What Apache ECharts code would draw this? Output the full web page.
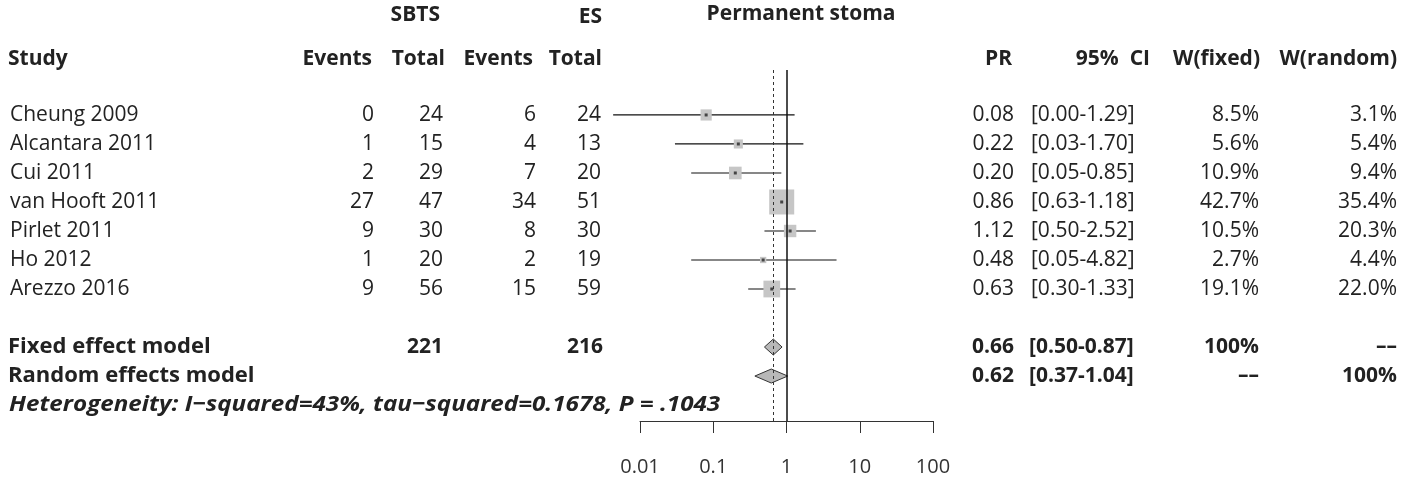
<!DOCTYPE html>
<html>
<head>
<meta charset="utf-8">
<script src="https://cdn.jsdelivr.net/npm/echarts@6/dist/echarts.min.js"></script>
<style>
  html, body { margin: 0; padding: 0; background: #fff; }
  #chart { width: 1412px; height: 477px; }
</style>
</head>
<body>
<div id="chart"></div>
<script>
// study data
var studies = ['Cheung 2009', 'Alcantara 2011', 'Cui 2011', 'van Hooft 2011', 'Pirlet 2011', 'Ho 2012', 'Arezzo 2016'];
var eventsSBTS = [0, 1, 2, 27, 9, 1, 9];
var totalSBTS = [24, 15, 29, 47, 30, 20, 56];
var eventsES = [6, 4, 7, 34, 8, 2, 15];
var totalES = [24, 13, 20, 51, 30, 19, 59];
var pr = [0.08, 0.22, 0.20, 0.86, 1.12, 0.48, 0.63];
var ciLow = [0.0043, 0.03, 0.05, 0.63, 0.50, 0.05, 0.30];
var ciHigh = [1.29, 1.70, 0.85, 1.18, 2.52, 4.82, 1.33];
var wFixed = [8.5, 5.6, 10.9, 42.7, 10.5, 2.7, 19.1];
var wRandom = [3.1, 5.4, 9.4, 35.4, 20.3, 4.4, 22.0];

// pooled estimates
var summaryLabels = ['Fixed effect model', 'Random effects model'];
var summaryEst = [0.66, 0.62];
var summaryLow = [0.50, 0.37];
var summaryHigh = [0.87, 1.04];
var summaryTotals = ['221', '216'];
var summaryWFixed = ['100%', '\u2013\u2013'];
var summaryWRandom = ['\u2013\u2013', '100%'];
var heterogeneity = 'Heterogeneity: I\u2212squared=43%, tau\u2212squared=0.1678, P = .1043';

var xTicks = [0.01, 0.1, 1, 10, 100];

// layout
var FONT = "'Open Sans', sans-serif";
var FS = 21;
var TXT = '#222';
var summaryRow = 8;   // one empty row after the studies
var col = { study: 10, ev1: 374, tot1: 443, ev2: 536, tot2: 601, pr: 1014, ci: 1031, wf: 1259, wr: 1397 };

function txt(x, y, s, align, weight, style, size) {
  return {
    type: 'text', x: x, y: y, silent: true,
    style: {
      text: s, fill: TXT,
      font: (style || 'normal') + ' ' + (weight || 'normal') + ' ' + (size || FS) + 'px ' + FONT,
      align: align || 'left', verticalAlign: 'middle'
    }
  };
}

function ciText(lo, hi) {
  return '[' + lo.toFixed(2) + '-' + hi.toFixed(2) + ']';
}

var chart = echarts.init(document.getElementById('chart'));

var headerY = 59;
var headers = [
  txt(801, 14, 'Permanent stoma', 'center', 'bold'),
  txt(440, 15, 'SBTS', 'right', 'bold'),
  txt(602, 17, 'ES', 'right', 'bold'),
  txt(8, headerY, 'Study', 'left', 'bold'),
  txt(372, headerY, 'Events', 'right', 'bold'),
  txt(445, headerY, 'Total', 'right', 'bold'),
  txt(533, headerY, 'Events', 'right', 'bold'),
  txt(602, headerY, 'Total', 'right', 'bold'),
  txt(1012, headerY, 'PR', 'right', 'bold'),
  txt(1150, headerY, '95%  CI', 'right', 'bold'),
  txt(1260, headerY, 'W(fixed)', 'right', 'bold'),
  txt(1397, headerY, 'W(random)', 'right', 'bold')
];

chart.setOption({
  animation: false,
  graphic: headers,
  grid: { left: 640, right: 479, top: 70, bottom: 54 },
  xAxis: {
    type: 'log',
    logBase: 10,
    min: xTicks[0],
    max: xTicks[xTicks.length - 1],
    splitLine: { show: false },
    axisLine: { onZero: false, lineStyle: { color: '#333', width: 1 } },
    axisTick: { length: 12, lineStyle: { color: '#333', width: 1 } },
    axisLabel: {
      margin: 36, color: '#333', fontSize: 20, fontFamily: FONT,
      formatter: function (v) { return String(v); }
    }
  },
  yAxis: {
    type: 'value', inverse: true, min: -1.55, max: 10.55, show: false
  },
  series: [
    {
      // study CI lines and weighted squares
      type: 'custom',
      clip: false,
      data: studies.map(function (s, i) { return [i, pr[i], ciLow[i], ciHigh[i], wFixed[i]]; }),
      encode: { x: [1, 2, 3], y: 0 },
      markLine: {
        silent: true, symbol: 'none', label: { show: false },
        data: [
          { xAxis: 1, lineStyle: { color: '#111', width: 1.5, type: 'solid' } },
          { xAxis: summaryEst[0], lineStyle: { color: '#333', width: 1, type: [3, 3] } }
        ]
      },
      renderItem: function (params, api) {
        var row = api.value(0);
        var pLo = api.coord([api.value(2), row]);
        var pHi = api.coord([api.value(3), row]);
        var pE = api.coord([api.value(1), row]);
        var side = 3.83 * Math.sqrt(api.value(4));
        return {
          type: 'group',
          children: [
            { type: 'line', shape: { x1: pLo[0], y1: pLo[1], x2: pHi[0], y2: pHi[1] }, style: { stroke: '#111', lineWidth: 1.2 } },
            { type: 'rect', shape: { x: pE[0] - side / 2, y: pE[1] - side / 2, width: side, height: side }, style: { fill: '#c6c6c6' } },
            { type: 'rect', shape: { x: pE[0] - 1.5, y: pE[1] - 1.5, width: 3, height: 3 }, style: { fill: '#444' } }
          ]
        };
      }
    },
    {
      // pooled diamonds
      type: 'custom',
      clip: false,
      data: summaryEst.map(function (e, i) { return [summaryRow + i, e, summaryLow[i], summaryHigh[i]]; }),
      encode: { x: [1, 2, 3], y: 0 },
      renderItem: function (params, api) {
        var row = api.value(0);
        var h = params.dataIndex === 0 ? 8 : 7;
        var pLo = api.coord([api.value(2), row]);
        var pHi = api.coord([api.value(3), row]);
        var pE = api.coord([api.value(1), row]);
        return {
          type: 'polygon',
          shape: { points: [[pLo[0], pE[1]], [pE[0], pE[1] - h], [pHi[0], pE[1]], [pE[0], pE[1] + h]] },
          style: { fill: '#b8b8b8', stroke: '#333', lineWidth: 1 }
        };
      }
    },
    {
      // table text for each study row
      type: 'custom',
      clip: false,
      silent: true,
      data: studies.map(function (s, i) { return [1, i]; }),
      encode: { x: 0, y: 1 },
      renderItem: function (params, api) {
        var i = params.dataIndex;
        var y = api.coord([1, api.value(1)])[1];
        return {
          type: 'group',
          children: [
            txt(col.study, y, studies[i]),
            txt(col.ev1, y, String(eventsSBTS[i]), 'right'),
            txt(col.tot1, y, String(totalSBTS[i]), 'right'),
            txt(col.ev2, y, String(eventsES[i]), 'right'),
            txt(col.tot2, y, String(totalES[i]), 'right'),
            txt(col.pr, y, pr[i].toFixed(2), 'right'),
            txt(col.ci, y, ciText(ciLow[i], ciHigh[i]), 'left'),
            txt(col.wf, y, wFixed[i].toFixed(1) + '%', 'right'),
            txt(col.wr, y, wRandom[i].toFixed(1) + '%', 'right')
          ]
        };
      }
    },
    {
      // table text for pooled rows and heterogeneity
      type: 'custom',
      clip: false,
      silent: true,
      data: [[1, summaryRow], [1, summaryRow + 1], [1, summaryRow + 2]],
      encode: { x: 0, y: 1 },
      renderItem: function (params, api) {
        var i = params.dataIndex;
        var y = api.coord([1, api.value(1)])[1];
        if (i === 2) {
          var het = txt(col.study, y, heterogeneity, 'left', 'bold', 'italic', 22);
          het.scaleX = 1.1;
          het.originX = col.study;
          return { type: 'group', children: [het] };
        }
        var kids = [
          txt(col.study - 2, y, summaryLabels[i], 'left', 'bold', 'normal', 22),
          txt(col.pr, y, summaryEst[i].toFixed(2), 'right', 'bold'),
          txt(col.ci - 2, y, ciText(summaryLow[i], summaryHigh[i]), 'left', 'bold'),
          txt(col.wf, y, summaryWFixed[i], 'right', 'bold'),
          txt(col.wr, y, summaryWRandom[i], 'right', 'bold')
        ];
        if (i === 0) {
          kids.push(txt(col.tot1, y, summaryTotals[0], 'right', 'bold'));
          kids.push(txt(col.tot2 + 2, y, summaryTotals[1], 'right', 'bold'));
        }
        return { type: 'group', children: kids };
      }
    }
  ]
});
</script>
</body>
</html>
